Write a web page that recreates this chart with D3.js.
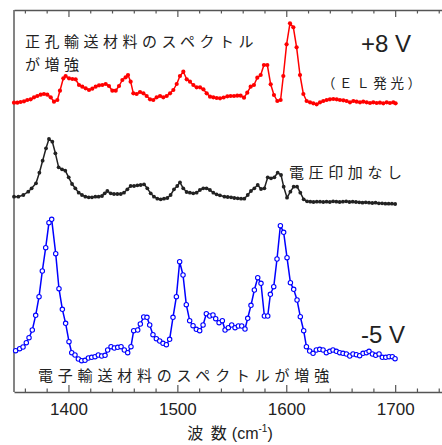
<!DOCTYPE html>
<html><head><meta charset="utf-8">
<script src="https://cdn.jsdelivr.net/npm/d3@7"></script>
<style>
html,body{margin:0;padding:0;background:#fff;}
svg{display:block;}
.jp{font-family:"Noto Sans CJK JP","Noto Sans",sans-serif;fill:#222;}
.num{font-family:"Liberation Sans",Arial,sans-serif;fill:#222;}
</style></head>
<body>
<svg id="c" width="442" height="445"></svg>
<script>
// wavenumber (cm-1), intensity (a.u., traces already offset)
const redSpectrum = [[1350,289.3],[1353.1,289.3],[1356.1,290],[1359.2,290.7],[1362.2,292],[1365.3,292.7],[1368.4,294.7],[1371.4,296],[1374.5,297.3],[1377.5,298],[1380.6,297.3],[1383.7,294.7],[1386.7,290.3],[1389.8,292],[1392.2,301.3],[1395.3,313.7],[1397.4,316],[1400.5,313.7],[1403.6,313],[1406.6,312.7],[1409.7,307],[1412.7,305.3],[1415.8,303.7],[1418.9,302],[1421.9,303.3],[1425,305.3],[1428.1,306.7],[1431.1,307],[1434.2,308],[1437.2,306],[1440.3,301.3],[1443.4,301.3],[1446.4,306],[1449.5,312],[1452.5,314.7],[1454.7,317],[1457.1,310.3],[1459.6,298.7],[1462.6,298],[1465.7,300],[1468.8,298.7],[1471.8,296],[1474.9,292.7],[1477.9,292],[1481,294.7],[1484.1,296],[1487.1,294.7],[1490.2,296],[1493.3,298.7],[1496.3,302],[1499.4,308],[1502.4,316],[1505.5,320.3],[1508.6,312.7],[1511.6,310.3],[1514.7,307],[1517.7,304.7],[1520.8,304.7],[1523.9,302.7],[1526.9,298.7],[1530,295.3],[1533,294.7],[1536.1,294],[1539.2,293.7],[1542.5,294.5],[1545.9,295.7],[1548.9,296],[1552,296],[1555,296.3],[1558.1,296.3],[1561.2,294.3],[1564.2,299.3],[1567.3,305.3],[1570.3,307],[1573.4,314.3],[1576.5,317],[1579.5,327],[1582.6,327],[1585.7,307.7],[1588.7,297],[1591.8,291],[1594.8,292],[1597.3,316],[1600.3,347.7],[1603.4,368.7],[1606.5,364.7],[1609.5,344.7],[1612.6,317],[1615.7,298],[1618.7,291],[1621.8,289.7],[1624.8,288.7],[1627.9,287.7],[1631,289.7],[1634,291],[1637.1,292],[1640.1,292.7],[1643.2,293],[1646.3,292.7],[1649.3,292],[1652.4,291.7],[1655.4,291],[1658.5,289.7],[1661.6,291],[1664.6,290.3],[1667.7,289.7],[1670.7,290.3],[1673.8,289.7],[1676.9,289],[1679.9,289.7],[1683,289],[1686,289.3],[1689.1,288.7],[1692.2,289.7],[1695.2,289],[1698.3,289.7],[1700.4,288.7]];

const blackSpectrum = [[1350,195.3],[1354,195.3],[1358.6,197],[1363.1,200.3],[1366.2,203.7],[1370.2,208.7],[1373.3,219.3],[1376.3,231.3],[1379.4,243.7],[1382.1,253],[1385.2,250.3],[1388,238.7],[1391,224.7],[1394.1,222.7],[1397.1,221.3],[1400.2,214.7],[1403.3,208],[1406.3,203.7],[1409.4,199.3],[1412.4,197],[1415.5,195.3],[1418.6,194.7],[1421.6,194.7],[1424.7,195.3],[1427.7,195.3],[1430.8,196],[1433.3,198.7],[1435.7,201],[1438.8,198.7],[1441.8,198],[1444.9,198],[1448,198],[1451,199.3],[1454.1,202.7],[1457.1,206],[1460.2,206],[1463.3,206.7],[1466.3,207],[1469.4,207.7],[1472.4,203.7],[1475.5,198.7],[1478.5,195.3],[1481.6,193.3],[1484.7,192.7],[1487.7,193.3],[1490.8,194],[1493.8,197],[1496.9,202.7],[1499.9,206],[1502.4,209.7],[1505.4,203.7],[1508.5,200],[1511.5,199.3],[1514.6,198.7],[1517.7,199.3],[1520.7,202],[1523.8,203.7],[1526.8,203.7],[1529.9,202],[1533,199.3],[1536,197.7],[1539.1,196.7],[1543.2,195.3],[1546.2,195],[1549.3,194.7],[1552.3,194],[1555.4,193.7],[1558.5,193.3],[1561.5,193.3],[1564.6,197],[1567.6,201],[1570.7,203.7],[1573.8,207],[1576.8,203],[1579.9,203.7],[1583,214.7],[1586,213.7],[1589.1,214.7],[1592.1,219.3],[1595.2,217],[1597.6,205.3],[1600.7,194.3],[1603.8,200.3],[1606.8,205.3],[1609.9,205.3],[1612.9,199.3],[1616,192.7],[1619.1,190.7],[1622.1,190.3],[1625,190],[1628,190.3],[1631,190.3],[1634,190],[1637,190.3],[1640,190],[1643,190.7],[1646,190.3],[1649,190],[1652,190.3],[1655,190.7],[1658,190],[1661,190.3],[1664,190],[1667,189.7],[1670,189.3],[1673,189.7],[1676,189.3],[1679,189],[1682,189.3],[1685,188.7],[1688,188.7],[1691,188.3],[1694,188.3],[1697,188.3],[1700,188]];

const blueSpectrum = [[1351.5,41.3],[1355.2,43.3],[1358.3,45],[1361.3,49.3],[1363.8,54.3],[1366.8,62],[1369.9,76.7],[1373,95.3],[1376,121],[1379.1,144.3],[1382.1,169.3],[1384.6,172.7],[1388.3,138.3],[1391.3,103.3],[1394.4,82.7],[1397.4,68.7],[1400.5,50.3],[1403,39.3],[1406,37],[1409.1,33],[1412.1,31.3],[1415.2,31.7],[1418.3,34],[1421.3,34.7],[1424.4,35.3],[1427.4,37],[1430.5,36],[1433.6,36.7],[1436,42],[1439.1,45.3],[1442.1,44],[1445.2,44.7],[1448.3,45.3],[1451.3,42],[1454.4,39.3],[1457.4,45.3],[1459.9,61.3],[1463.6,62],[1466,68],[1469.1,75],[1472.1,74.7],[1474.6,67],[1477.6,57.3],[1480.7,53.3],[1483.8,51],[1486.8,48.7],[1489.9,47.3],[1492.9,52.7],[1496,74.7],[1499.1,95.3],[1502.1,130.3],[1505.2,117],[1508.2,87.3],[1511.3,71.3],[1514.4,66.3],[1517.4,62.7],[1520.5,61.3],[1523.6,67],[1526.6,78.3],[1529.7,76],[1532.7,77],[1535.2,73.3],[1538.3,69.3],[1541.3,71.3],[1543.8,62],[1546.8,64.3],[1549.9,67],[1553,64.3],[1556,66],[1559.1,66],[1562.1,63],[1564.6,73.7],[1567.6,86.7],[1570.7,102],[1573.8,114.3],[1576.8,108.7],[1579.9,76],[1583,76],[1585.4,97.7],[1588.5,105.3],[1591.5,133],[1594.6,166.3],[1597.6,159.7],[1600.7,134.3],[1603.8,109.3],[1606.8,102.7],[1609.9,92],[1612.9,75.3],[1616,61.3],[1618.5,45.3],[1621.5,41],[1624.6,38.7],[1627.6,42],[1630.7,42.7],[1633.8,42],[1636.8,39.3],[1639.9,40.7],[1642.9,42],[1646,40.7],[1649.1,39.3],[1652.1,38.7],[1655.2,38],[1658.3,36],[1661.3,38],[1664.4,37.3],[1667.4,36.3],[1670.5,38.7],[1673.6,39.3],[1676,40.7],[1679.1,38],[1682.1,36.7],[1685.2,38],[1688.2,34.7],[1691.3,34.7],[1694.4,35.3],[1697.4,35.3],[1699.9,33.3]];

const majorTicks = [1400, 1500, 1600, 1700];
const minorTicks = [1360,1380,1420,1440,1460,1480,1520,1540,1560,1580,1620,1640,1660,1680,1720,1740];
const xDomain = [1350, 1743];
const yDomain = [0, 382];

const svg = d3.select("#c");
const L = 14, R = 442, T = 10, B = 392;
const x = d3.scaleLinear().domain(xDomain).range([L, R]);
const y = d3.scaleLinear().domain(yDomain).range([B, T]);
const axisColor = "#555";

// frame
svg.append("line").attr("x1", L).attr("x2", L).attr("y1", T).attr("y2", B)
  .attr("stroke", "#777").attr("stroke-width", 1.8);

function styleAxis(g){
  g.selectAll("path.domain").attr("stroke", axisColor).attr("stroke-width", 1.4);
  g.selectAll(".tick line").attr("stroke", axisColor).attr("stroke-width", 1.2);
}
// bottom
const gb = svg.append("g").attr("transform", `translate(0,${B})`)
  .call(d3.axisBottom(x).tickValues(majorTicks).tickSizeInner(-7).tickSizeOuter(0).tickPadding(11).tickFormat(d3.format("d")));
styleAxis(gb);
gb.selectAll(".tick text").attr("class","num").attr("font-size", 17).attr("fill", "#333").style("font-family", "'Liberation Sans',Arial,sans-serif");
const gbm = svg.append("g").attr("transform", `translate(0,${B})`)
  .call(d3.axisBottom(x).tickValues(minorTicks).tickSizeInner(-3.5).tickSizeOuter(0).tickFormat(""));
styleAxis(gbm); gbm.select("path.domain").remove();
// top
const gt = svg.append("g").attr("transform", `translate(0,${T})`)
  .call(d3.axisTop(x).tickValues(majorTicks).tickSizeInner(-7).tickSizeOuter(0).tickFormat(""));
styleAxis(gt);
const gtm = svg.append("g").attr("transform", `translate(0,${T})`)
  .call(d3.axisTop(x).tickValues(minorTicks).tickSizeInner(-3.5).tickSizeOuter(0).tickFormat(""));
styleAxis(gtm); gtm.select("path.domain").remove();

const line = d3.line().x(d => x(d[0])).y(d => y(d[1]));

function trace(data, color, r, open){
  svg.append("path").datum(data).attr("d", line)
    .attr("fill","none").attr("stroke", color).attr("stroke-width", 1.5).attr("stroke-linejoin","round");
  svg.append("g").selectAll("circle").data(data).join("circle")
    .attr("cx", d => x(d[0])).attr("cy", d => y(d[1])).attr("r", r)
    .attr("fill", open ? "#fff" : color)
    .attr("stroke", color).attr("stroke-width", open ? 1.1 : 0);
}
trace(redSpectrum, "#ff0000", 2.1, false);
trace(blackSpectrum, "#222", 1.9, false);
trace(blueSpectrum, "#0000ff", 2.2, true);

// labels
function jp(t, xx, yy, fs, ls){
  svg.append("text").attr("class","jp").attr("x", xx).attr("y", yy)
    .attr("font-size", fs).attr("letter-spacing", ls).attr("dominant-baseline","central").text(t);
}
jp("正孔輸送材料のスペクトル", 25, 40, 15, 4.5);
jp("が増強", 25, 63, 15, 4.5);
jp("電圧印加なし", 289, 171.5, 15, 4.6);
jp("電子輸送材料のスペクトルが増強", 38, 374, 15, 4.8);
jp("（ＥＬ発光）", 322, 81.5, 13.5, 3.6);

svg.append("text").attr("class","num").attr("x", 361).attr("y", 51.7).attr("font-size", 24).text("+8 V");
svg.append("text").attr("class","num").attr("x", 361).attr("y", 343.3).attr("font-size", 24).text("-5 V");

// x title
const xt = svg.append("text").attr("x", 230).attr("y", 439).attr("text-anchor","middle")
  .attr("font-size", 16).attr("fill","#222");
xt.append("tspan").attr("class","jp").attr("letter-spacing", 2).text("波 数");
xt.append("tspan").attr("class","num").attr("dx", 3).text("(cm");
xt.append("tspan").attr("class","num").attr("font-size", 10).attr("dy", -7).text("-1");
xt.append("tspan").attr("class","num").attr("dy", 7).text(")");
</script>
</body></html>
